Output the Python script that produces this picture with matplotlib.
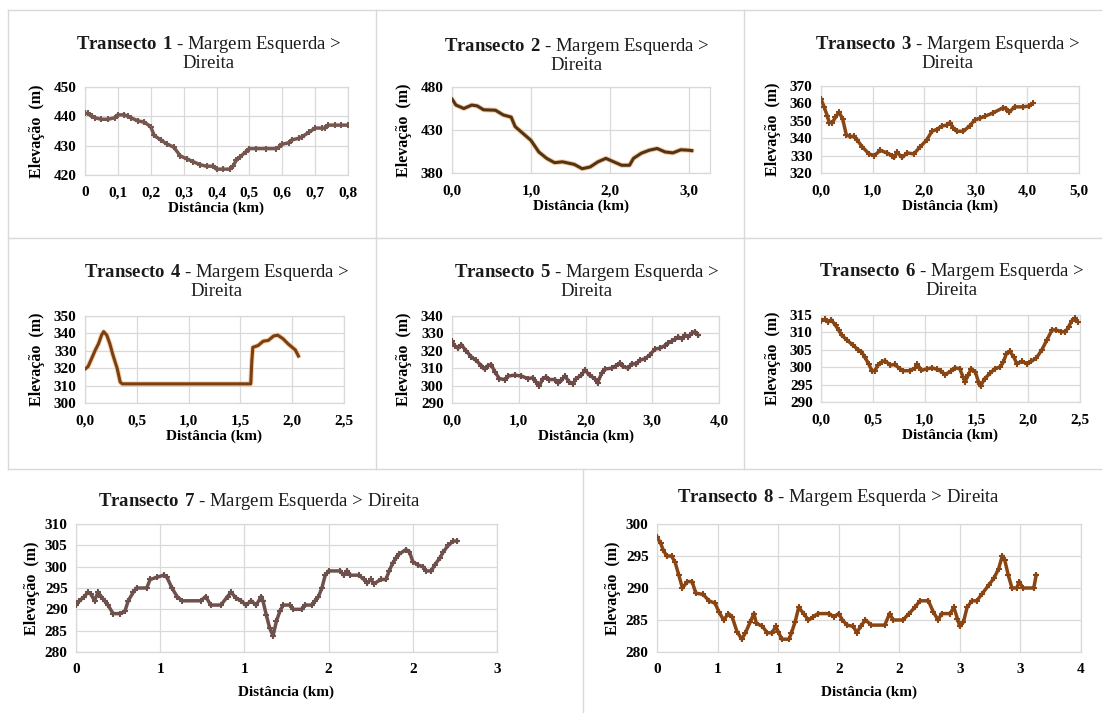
import matplotlib
matplotlib.use("Agg")
import matplotlib.pyplot as plt
from matplotlib.lines import Line2D

plt.rcParams['font.family'] = ['Liberation Serif', 'DejaVu Serif']
plt.rcParams['mathtext.fontset'] = 'custom'
plt.rcParams['mathtext.rm'] = 'Liberation Serif'
plt.rcParams['mathtext.bf'] = 'Liberation Serif:bold'

# ---- data (distance km, elevation m) ----
t1_x = [0.00, 0.01, 0.02, 0.03, 0.05, 0.07, 0.09, 0.10, 0.12, 0.13, 0.14, 0.16, 0.18, 0.20, 0.21,
        0.23, 0.25, 0.27, 0.29, 0.31, 0.33, 0.35, 0.37, 0.39, 0.40, 0.42, 0.44, 0.45, 0.46, 0.47,
        0.49, 0.50, 0.52, 0.55, 0.58, 0.59, 0.60, 0.62, 0.63, 0.65, 0.66, 0.68, 0.70, 0.72, 0.73,
        0.74, 0.76, 0.78, 0.80]
t1_y = [441, 441, 440, 439.5, 439, 439, 439.5, 440.5, 440.5, 440, 439.5, 438.5, 438, 436.5, 433.5,
        432, 430.5, 429.5, 426.5, 425.5, 424.5, 423.5, 423, 423, 422, 422, 422, 423, 425, 426,
        428, 429, 429, 429, 429, 429.5, 430.5, 431, 432, 432.5, 433, 434.5, 436, 436, 436,
        437, 437, 437, 437]

t2_x = [0.00, 0.05, 0.15, 0.25, 0.32, 0.40, 0.55, 0.65, 0.75, 0.80, 0.90, 1.00, 1.10, 1.20, 1.30,
        1.40, 1.55, 1.65, 1.75, 1.85, 1.95, 2.05, 2.15, 2.25, 2.30, 2.40, 2.50, 2.60, 2.70, 2.80,
        2.90, 3.00, 3.04]
t2_y = [466, 459, 455, 459, 458, 453.5, 453, 447.5, 445, 434, 426, 418, 404.5, 397, 392,
        393, 390, 385, 387, 393, 397, 393, 389, 389, 397, 403, 406.5, 408.5, 404.5, 403.4,
        407, 406.5, 406]

t3_x = [0.00, 0.06, 0.12, 0.16, 0.22, 0.28, 0.35, 0.42, 0.49, 0.56, 0.64, 0.70, 0.80, 0.93, 1.03,
        1.15, 1.28, 1.38, 1.42, 1.47, 1.57, 1.67, 1.80, 1.92, 2.05, 2.15, 2.24, 2.34, 2.44, 2.50,
        2.56, 2.63, 2.76, 2.88, 2.98, 3.08, 3.17, 3.33, 3.53, 3.59, 3.65, 3.75, 3.91, 4.04, 4.10]
t3_y = [362.5, 358, 353, 349, 349, 352, 355, 351, 342, 341, 341, 339, 335, 331, 330,
        333, 331.5, 330, 329, 332, 329, 331.5, 331, 335, 339, 344, 345, 347, 347.5, 349,
        346, 344, 344, 347, 350.5, 351.5, 352.5, 354.5, 357.5, 357, 355, 358, 358, 358.5, 360]

t4_x = [0.00, 0.03, 0.06, 0.10, 0.13, 0.16, 0.18, 0.21, 0.24, 0.27, 0.31, 0.34, 0.36, 0.45, 0.55,
        0.65, 0.75, 0.85, 0.95, 1.05, 1.15, 1.25, 1.35, 1.45, 1.55, 1.60, 1.61, 1.62, 1.67, 1.72,
        1.77, 1.82, 1.86, 1.91, 1.96, 2.03, 2.06]
t4_y = [319.5, 321, 325, 330.5, 334, 339, 341, 339, 334, 327.5, 320, 312, 311, 311, 311,
        311, 311, 311, 311, 311, 311, 311, 311, 311, 311, 311, 324, 332, 333, 335.5,
        336, 338.5, 339, 337, 334, 330.5, 327]

t5_x = [0.00, 0.04, 0.09, 0.14, 0.21, 0.29, 0.36, 0.44, 0.49, 0.54, 0.59, 0.64, 0.71, 0.79, 0.84,
        0.94, 1.04, 1.14, 1.21, 1.26, 1.31, 1.36, 1.41, 1.46, 1.54, 1.59, 1.64, 1.69, 1.76, 1.81,
        1.86, 1.94, 1.99, 2.06, 2.14, 2.18, 2.24, 2.29, 2.39, 2.46, 2.51, 2.56, 2.64, 2.69, 2.76,
        2.81, 2.89, 2.96, 3.04, 3.11, 3.19, 3.24, 3.29, 3.34, 3.39, 3.44, 3.49, 3.54, 3.59, 3.64,
        3.69]
t5_y = [325.5, 323, 321.5, 323.5, 320, 316.5, 314.5, 311.5, 309.5, 311.5, 312, 308, 304, 303.5, 305.5,
        306, 305.5, 304, 304.5, 302, 300, 304, 305, 303.5, 303.5, 301.5, 303, 305.5, 302, 301,
        304, 306, 309, 306, 304, 301.5, 307, 309.5, 310, 311.5, 313, 311, 310, 312.5, 312.5,
        314.5, 315.5, 317.5, 321, 321.5, 323, 324.5, 325.5, 326.5, 328, 327, 329, 328, 330, 331,
        329]

t6_x = [0.00, 0.04, 0.07, 0.10, 0.14, 0.17, 0.20, 0.25, 0.31, 0.36, 0.39, 0.42, 0.46, 0.49, 0.52,
        0.55, 0.59, 0.62, 0.67, 0.71, 0.76, 0.79, 0.86, 0.91, 0.93, 0.97, 1.02, 1.07, 1.12, 1.16,
        1.20, 1.25, 1.29, 1.34, 1.37, 1.39, 1.42, 1.45, 1.49, 1.52, 1.54, 1.58, 1.63, 1.68, 1.73,
        1.76, 1.79, 1.82, 1.86, 1.89, 1.94, 1.99, 2.03, 2.08, 2.13, 2.18, 2.23, 2.27, 2.32, 2.36,
        2.39, 2.42, 2.45, 2.48]
t6_y = [313.3, 313.8, 313, 313.6, 312, 310.7, 309.2, 307.8, 306.3, 305, 304.5, 303, 301, 299, 299,
        300.6, 301.6, 301.8, 300.6, 300.8, 299.6, 299, 299, 299.8, 300.8, 299.1, 299.5, 299.8, 299.4, 298.8,
        297.9, 298.8, 299.8, 299.6, 297.2, 295.8, 297.7, 299.6, 298.6, 295.8, 294.6, 296.7, 298.2, 299.6, 300.1,
        301.5, 303.9, 304.6, 303, 301, 301.7, 301, 301.7, 302.7, 304.9, 307.8, 310.7, 310.7, 310.2, 310.2,
        311.6, 313.3, 314, 313]

t7_x = [0.00, 0.02, 0.05, 0.07, 0.09, 0.11, 0.13, 0.15, 0.17, 0.19, 0.22, 0.26, 0.29, 0.31, 0.34,
        0.36, 0.42, 0.44, 0.48, 0.52, 0.54, 0.57, 0.60, 0.63, 0.74, 0.77, 0.80, 0.86, 0.90, 0.92,
        0.95, 0.98, 1.01, 1.04, 1.07, 1.10, 1.11, 1.13, 1.15, 1.17, 1.19, 1.21, 1.23, 1.27, 1.29,
        1.34, 1.36, 1.40, 1.42, 1.44, 1.46, 1.48, 1.50, 1.57, 1.59, 1.61, 1.63, 1.68, 1.71, 1.73,
        1.75, 1.77, 1.81, 1.84, 1.86, 1.88, 1.90, 1.92, 1.96, 1.98, 2.00, 2.03, 2.06, 2.08, 2.11,
        2.13, 2.16, 2.18, 2.21, 2.24, 2.26]
t7_y = [291, 292, 293, 294, 293.5, 292, 294, 293, 292, 291, 289, 289, 289.5, 292, 294,
        295, 295, 297, 297.5, 298, 297.5, 295, 293, 292, 292, 293, 291, 291, 293, 294,
        292.7, 292, 291, 292, 291, 293, 292, 288.7, 285.6, 283.8, 287.2, 289.5, 291, 291, 290,
        290, 291, 291, 292, 293, 295, 298, 299, 299, 298, 299, 298, 298, 297, 296.2,
        297, 296, 297, 297, 299, 300.8, 302, 303, 304, 303.5, 301.2, 300.4, 300, 299, 299,
        300.4, 302, 303.4, 305, 306, 306]

t8_x = [0.00, 0.03, 0.05, 0.08, 0.12, 0.15, 0.18, 0.21, 0.25, 0.29, 0.32, 0.38, 0.43, 0.48, 0.51,
        0.55, 0.59, 0.62, 0.66, 0.70, 0.73, 0.77, 0.80, 0.82, 0.87, 0.91, 0.95, 0.98, 1.00, 1.03,
        1.09, 1.11, 1.14, 1.17, 1.21, 1.25, 1.29, 1.33, 1.42, 1.46, 1.50, 1.53, 1.57, 1.62, 1.65,
        1.68, 1.72, 1.77, 1.88, 1.92, 1.95, 2.03, 2.08, 2.13, 2.17, 2.24, 2.28, 2.32, 2.35, 2.42,
        2.45, 2.48, 2.50, 2.53, 2.56, 2.60, 2.64, 2.68, 2.74, 2.78, 2.82, 2.85, 2.87, 2.90, 2.93,
        2.97, 2.99, 3.02, 3.11, 3.13]
t8_y = [298, 297, 296, 295, 295, 294, 292, 290, 291, 291, 289.2, 289, 288, 287.6, 286.3,
        285, 286, 285.5, 283.2, 282, 283, 284.7, 286, 284.5, 284, 283, 283, 284, 283.2, 282,
        282, 283, 284.7, 287, 286, 285, 285.5, 286, 286, 285.5, 286, 285, 284.2, 284, 283,
        284, 285, 284.2, 284.2, 286, 285, 285, 286, 287, 288, 288, 286.3, 285, 286, 286,
        287, 285.2, 284, 284.7, 287, 288, 288, 289, 290.5, 291.5, 293, 295, 294.4, 292, 290,
        290, 291, 290, 290, 292]

titles = ["Transecto 1", "Transecto 2", "Transecto 3", "Transecto 4",
          "Transecto 5", "Transecto 6", "Transecto 7", "Transecto 8"]

t1_xticks = [0, 0.1, 0.2, 0.3, 0.4, 0.5, 0.6, 0.7, 0.8]
t1_xlabels = ["0", "0,1", "0,2", "0,3", "0,4", "0,5", "0,6", "0,7", "0,8"]
t1_yticks = [420, 430, 440, 450]
t2_xticks = [0, 1, 2, 3]
t2_xlabels = ["0,0", "1,0", "2,0", "3,0"]
t2_yticks = [380, 430, 480]
t3_xticks = [0, 1, 2, 3, 4, 5]
t3_xlabels = ["0,0", "1,0", "2,0", "3,0", "4,0", "5,0"]
t3_yticks = [320, 330, 340, 350, 360, 370]
t4_xticks = [0, 0.5, 1.0, 1.5, 2.0, 2.5]
t4_xlabels = ["0,0", "0,5", "1,0", "1,5", "2,0", "2,5"]
t4_yticks = [300, 310, 320, 330, 340, 350]
t5_xticks = [0, 1, 2, 3, 4]
t5_xlabels = ["0,0", "1,0", "2,0", "3,0", "4,0"]
t5_yticks = [290, 300, 310, 320, 330, 340]
t6_xticks = [0, 0.5, 1.0, 1.5, 2.0, 2.5]
t6_xlabels = ["0,0", "0,5", "1,0", "1,5", "2,0", "2,5"]
t6_yticks = [290, 295, 300, 305, 310, 315]
t7_xticks = [0, 0.5, 1.0, 1.5, 2.0, 2.5]
t7_xlabels = ["0", "1", "1", "2", "2", "3"]
t7_yticks = [280, 285, 290, 295, 300, 305, 310]
t8_xticks = [0, 0.5, 1.0, 1.5, 2.0, 2.5, 3.0, 3.5]
t8_xlabels = ["0", "1", "1", "2", "2", "3", "3", "4"]
t8_yticks = [280, 285, 290, 295, 300]

W, H = 1102, 713
fig = plt.figure(figsize=(W / 100, H / 100), dpi=100)
fig.patch.set_facecolor('white')

def px_box(left, top, right, bottom):
    return [left / W, 1 - bottom / H, (right - left) / W, (bottom - top) / H]

def fline(x0, y0, x1, y1):
    fig.add_artist(Line2D([x0 / W, x1 / W], [1 - y0 / H, 1 - y1 / H],
                          transform=fig.transFigure, color='#d9d9d9', lw=1.0))

# panel frames
fline(8, 10, 1102, 10)
fline(8, 238, 1102, 238)
fline(8, 469, 1102, 469)
fline(8, 10, 8, 469)
fline(376, 10, 376, 469)
fline(744, 10, 744, 469)
fline(583, 469, 583, 713)

# data, ticks, xlim, axes box in px, title centre (px), two-line title, colour, halo
panels = [
    (t1_x, t1_y, t1_xticks, t1_xlabels, t1_yticks, (0, 0.8), (85, 87, 348, 175), 209, 53, True, '#76574f', None),
    (t2_x, t2_y, t2_xticks, t2_xlabels, t2_yticks, (0, 3.27), (452, 87, 710, 173), 577, 55, True, '#553414', '#e9a86a'),
    (t3_x, t3_y, t3_xticks, t3_xlabels, t3_yticks, (0, 5), (821, 86, 1079, 173), 948, 53, True, '#8a4614', None),
    (t4_x, t4_y, t4_xticks, t4_xlabels, t4_yticks, (0, 2.5), (85, 316, 344, 403), 217, 281, True, '#7a3f12', '#f0b070'),
    (t5_x, t5_y, t5_xticks, t5_xlabels, t5_yticks, (0, 4), (452, 316, 719, 403), 587, 281, True, '#6e4a48', None),
    (t6_x, t6_y, t6_xticks, t6_xlabels, t6_yticks, (0, 2.5), (821, 315, 1080, 402), 952, 280, True, '#8a4612', None),
    (t7_x, t7_y, t7_xticks, t7_xlabels, t7_yticks, (0, 2.5), (76, 524, 497, 652), 260, 502, False, '#6e504c', None),
    (t8_x, t8_y, t8_xticks, t8_xlabels, t8_yticks, (0, 3.5), (657, 524, 1081, 652), 839, 498, False, '#8b4513', None),
]

for i, (xs, ys, xt, xl, yt, xlim, box, tcx, tcy, two, col, halo) in enumerate(panels):
    ax = fig.add_axes(px_box(*box))
    if halo:
        ax.plot(xs, ys, color=halo, lw=3.6, alpha=0.6, solid_capstyle='round', zorder=2)
        ax.plot(xs, ys, color=col, lw=2.2, zorder=3)
    else:
        ax.plot(xs, ys, color=col, lw=2.5, marker='+', ms=5, mew=1.5, zorder=3)
    ax.set_xlim(*xlim)
    ax.set_ylim(yt[0], yt[-1])
    ax.set_xticks(xt)
    ax.set_xticklabels(xl)
    ax.set_yticks(yt)
    ax.grid(True, color='#d9d9d9', lw=0.9)
    ax.set_axisbelow(True)
    for s in ax.spines.values():
        s.set_color('#d9d9d9')
        s.set_linewidth(0.9)
    ax.tick_params(length=0, labelsize=11, pad=6)
    ax.tick_params(axis='x', pad=8)
    for lab in ax.get_xticklabels() + ax.get_yticklabels():
        lab.set_fontweight('bold')
    wpx = box[2] - box[0]
    hpx = box[3] - box[1]
    ax.set_xlabel('Distância (km)', fontsize=11, fontweight='bold')
    ax.set_ylabel('Elevação  (m)', fontsize=11.5, fontweight='bold')
    xoff = 40 if i >= 6 else 33
    yoff = 44 if i >= 6 else 48
    ax.xaxis.set_label_coords(0.5, -xoff / hpx)
    ax.xaxis.label.set_va('center')
    ax.yaxis.set_label_coords(-yoff / wpx, 0.5)
    ax.yaxis.label.set_va('center')

    num = titles[i].split()[1]
    head = r'$\mathbf{Transecto\ ' + num + r'}$'
    if two:
        txt = head + ' - Margem Esquerda >\nDireita'
    else:
        txt = head + ' - Margem Esquerda > Direita'
    fig.text(tcx / W, 1 - tcy / H, txt, ha='center', va='center', fontsize=13.5,
             multialignment='center', linespacing=1.05, color='#1a1a1a')

fig.savefig('out.png', dpi=100, facecolor='white')
